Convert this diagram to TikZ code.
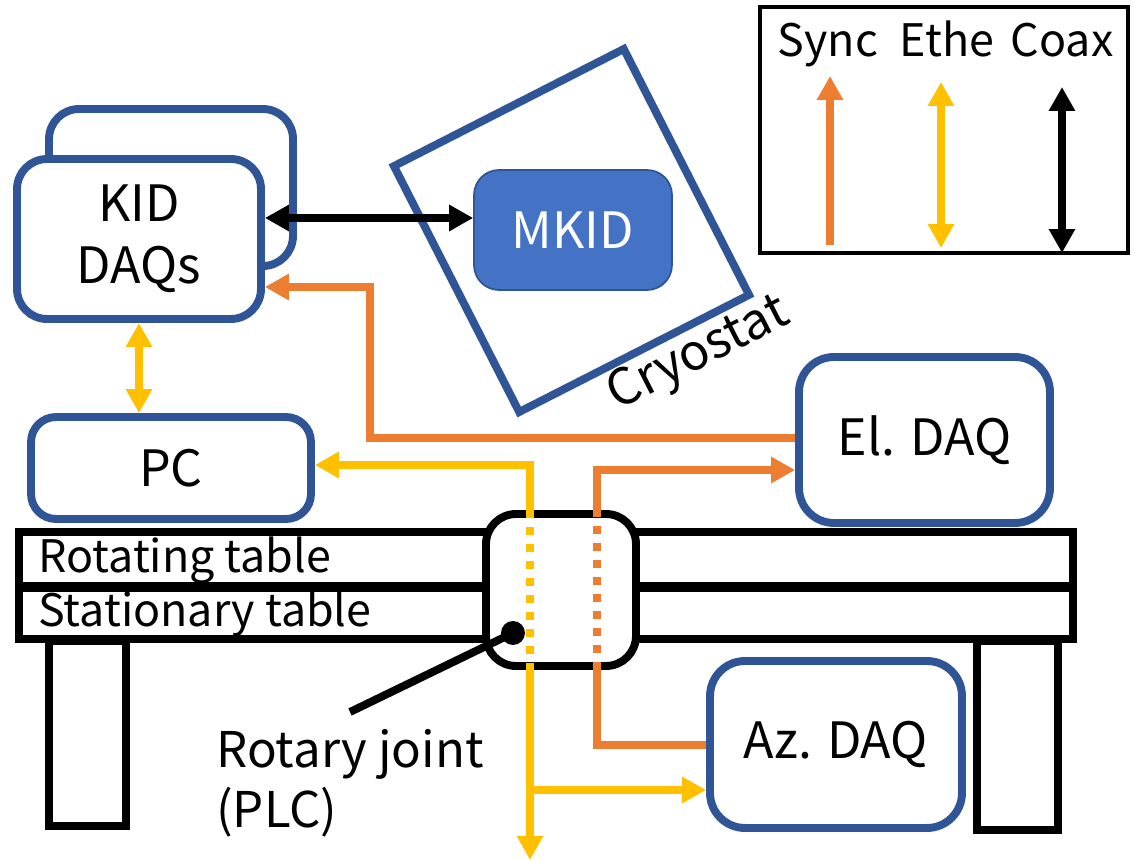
\documentclass[tikz,border=0pt]{standalone}
\usepackage{fontspec}
\setmainfont{Noto Sans CJK JP}
\usetikzlibrary{arrows.meta}
\definecolor{bdr}{HTML}{2F5597}
\definecolor{syncc}{HTML}{ED7D31}
\definecolor{ethec}{HTML}{FFC000}
\definecolor{mkidc}{HTML}{4472C4}
\begin{document}
\begin{tikzpicture}[x=0.02cm,y=-0.02cm,
  >={Triangle[length=0.48cm,width=0.5cm]},
  bigtxt/.style={font=\fontsize{28.5}{35.5}\selectfont},
  smalltxt/.style={font=\fontsize{25.5}{34}\selectfont},
  box/.style={draw=bdr, line width=4.5pt, rounded corners=0.6cm, fill=white,
    rectangle, align=center, inner sep=0pt, bigtxt},
  tablebox/.style={draw=black, line width=4.5pt, fill=white},
  syncln/.style={draw=syncc, line width=4.3pt},
  etheln/.style={draw=ethec, line width=4.3pt},
  coaxln/.style={draw=black, line width=4.3pt},
  dotln/.style={dash pattern=on 0.16cm off 0.18cm}
]
\useasboundingbox (0,0) rectangle (1134,861);
\fill[white] (0,0) rectangle (1134,861);

% legs and tables
\draw[tablebox] (49,641) rectangle (126,826);
\draw[tablebox] (977,641) rectangle (1058,830);
\draw[tablebox] (19,532) rectangle (1073,586);
\draw[tablebox] (19,588) rectangle (1073,639);
\node[smalltxt, anchor=base west, inner sep=0pt] (rt) at (38,573) {Rotating table};
\node[smalltxt, anchor=base west, inner sep=0pt] (st) at (38,627) {Stationary table};

% rotary joint
\node[draw=black, line width=4.5pt, fill=white, rounded corners=0.6cm,
  minimum width=3.0cm, minimum height=3.04cm, inner sep=0pt] (rj) at (561,590) {};

% cryostat
\node[draw=bdr, line width=4.5pt, rotate=27, minimum width=5.16cm,
  minimum height=5.52cm, inner sep=0pt] (cryo) at (571.5,230.5) {};
\node[bigtxt, rotate=27, inner sep=0pt] (cryot) at (699,355) {Cryostat};

% MKID
\node[draw=bdr, line width=1pt, fill=mkidc, rounded corners=0.5cm,
  minimum width=3.96cm, minimum height=2.4cm, inner sep=0pt, text=white, bigtxt]
  (mkid) at (573,230) {MKID};

% KID DAQs
\node[box, minimum width=4.88cm, minimum height=3.14cm] (kidb) at (171,187.5) {};
\node[box, minimum width=4.88cm, minimum height=3.2cm] (kidf) at (139,239) {KID\\DAQs};

% PC, El, Az
\node[box, minimum width=5.6cm, minimum height=2.04cm, rounded corners=0.5cm] (pc) at (171,468) {PC};
\node[box, minimum width=5.02cm, minimum height=3.32cm, rounded corners=0.7cm] (el) at (924.5,440) {El. DAQ};
\node[box, minimum width=5.04cm, minimum height=3.34cm, rounded corners=0.7cm] (az) at (836,744.5) {Az. DAQ};

% helper coordinates
\coordinate (y218) at (0,218);
\coordinate (y287) at (0,287);
\coordinate (y438) at (0,438);
\coordinate (y465) at (0,465);
\coordinate (y470) at (0,470);
\coordinate (y745) at (0,745);
\coordinate (y790) at (0,790);
\coordinate (sbend) at (370,438);
\coordinate (sup) at (370,287);
\coordinate (ytop) at (530,510);
\coordinate (ybot) at (530,670);
\coordinate (yend) at (530,860);
\coordinate (ybr) at (530,790);
\coordinate (otop) at (597,510);
\coordinate (obot) at (597,670);

% coax
\draw[coaxln, <->] (kidf.east |- y218) -- (mkid.west |- y218);
% ethernet KID <-> PC
\draw[etheln, <->] (kidf.south) -- (kidf.south |- pc.north);
% sync El -> KID
\draw[syncln, ->] (el.west |- y438) -- (sbend) -- (sup) -- (kidf.east |- y287);
% sync Az -> joint -> El
\draw[syncln] (az.west |- y745) -| (obot);
\draw[syncln, dotln] (obot) -- (otop);
\draw[syncln, ->] (otop) |- (el.west |- y470);
% ethernet
\draw[etheln, ->] (ytop) |- (pc.east |- y465);
\draw[etheln, dotln] (ytop) -- (ybot);
\draw[etheln, ->] (ybot) -- (yend);
\draw[etheln, ->] (ybr) -- (az.west |- y790);

% rotary joint pointer
\coordinate (rjl) at (350,712);
\node[circle, fill=black, minimum size=0.48cm, inner sep=0pt] (rjdot) at (513,633) {};
\draw[line width=4.5pt] (rjdot.center) -- (rjl);
\node[align=left, anchor=north west, inner sep=0pt, font=\fontsize{28}{34}\selectfont] (rjt) at (216,729) {Rotary joint\\(PLC)};

% legend
\node[draw=black, line width=2.3pt, minimum width=7.36cm, minimum height=4.92cm, inner sep=0pt] (leg) at (944,130) {};
\node[smalltxt, anchor=base, inner sep=0pt] (lsync) at (828,57) {Sync};
\node[smalltxt, anchor=base, inner sep=0pt] (lethe) at (947,57) {Ethe};
\node[smalltxt, anchor=base, inner sep=0pt] (lcoax) at (1062,57) {Coax};
\coordinate (s1) at (830,245); \coordinate (s2) at (830,76);
\coordinate (e1) at (941,248); \coordinate (e2) at (941,82);
\coordinate (c1) at (1062,253); \coordinate (c2) at (1062,87);
\draw[syncln, ->] (s1) -- (s2);
\draw[etheln, <->] (e1) -- (e2);
\draw[coaxln, <->] (c1) -- (c2);
\end{tikzpicture}
\end{document}
